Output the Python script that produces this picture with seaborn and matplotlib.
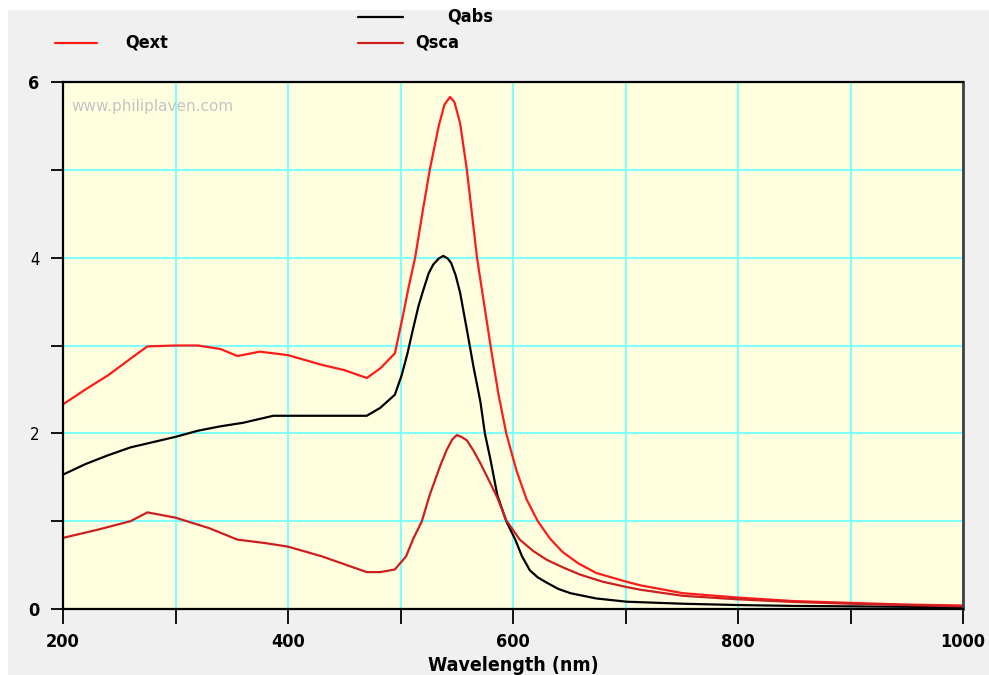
import matplotlib
matplotlib.use("Agg")
import matplotlib.pyplot as plt
from matplotlib.lines import Line2D
from matplotlib.patches import Rectangle
import seaborn as sns
import pandas as pd

# ---- data ----
wl_ext = [200, 220, 240, 260, 275, 300, 320, 340, 355, 375, 400, 430, 450, 470, 482, 495, 502,
          507, 513, 520, 526, 534, 539, 544, 548, 553, 559, 568, 574, 580, 587, 594, 603, 612,
          622, 633, 644, 658, 674, 701, 713, 751, 800, 850, 900, 950, 1000]
qext = [2.33, 2.5, 2.66, 2.85, 2.99, 3.0, 3.0, 2.96, 2.88, 2.93, 2.89, 2.78, 2.72, 2.63, 2.74,
        2.91, 3.33, 3.65, 4.0, 4.55, 5.0, 5.5, 5.74, 5.83, 5.77, 5.53, 5.0, 4.0, 3.5, 3.0, 2.45,
        2.0, 1.58, 1.25, 1.0, 0.8, 0.65, 0.52, 0.41, 0.31, 0.27, 0.18, 0.13, 0.09, 0.07, 0.05,
        0.04]

wl_abs = [200, 220, 240, 260, 280, 300, 320, 340, 360, 387, 430, 470, 482, 495, 501, 506, 511,
          516, 520, 525, 529, 534, 538, 542, 545, 549, 553, 559, 565, 571, 575, 580, 586, 594,
          602, 608, 615, 622, 630, 640, 651, 674, 701, 751, 800, 850, 900, 1000]
qabs = [1.53, 1.65, 1.75, 1.84, 1.9, 1.96, 2.03, 2.08, 2.12, 2.2, 2.2, 2.2, 2.29, 2.44, 2.66,
        2.9, 3.18, 3.45, 3.62, 3.82, 3.92, 3.99, 4.02, 3.99, 3.94, 3.8, 3.6, 3.18, 2.75, 2.36,
        2.0, 1.7, 1.3, 1.0, 0.79, 0.6, 0.44, 0.36, 0.30, 0.23, 0.18, 0.12, 0.083, 0.06, 0.045,
        0.035, 0.03, 0.02]

wl_sca = [200, 230, 260, 275, 300, 330, 355, 380, 400, 430, 470, 482, 495, 505, 511, 519, 526,
          535, 541, 546, 550, 554, 559, 565, 571, 578, 586, 594, 606, 618, 630, 645, 660, 680,
          701, 713, 751, 800, 850, 900, 1000]
qsca = [0.81, 0.9, 1.0, 1.10, 1.04, 0.92, 0.79, 0.75, 0.71, 0.6, 0.42, 0.42, 0.45, 0.6, 0.79,
        1.0, 1.3, 1.62, 1.81, 1.93, 1.98, 1.96, 1.92, 1.8, 1.66, 1.48, 1.27, 1.01, 0.79, 0.66,
        0.56, 0.47, 0.39, 0.31, 0.25, 0.22, 0.15, 0.11, 0.08, 0.06, 0.03]

series = ["Qext", "Qabs", "Qsca"]
colors = {"Qext": "#ff1a1a", "Qabs": "#000000", "Qsca": "#cc1f1f"}

df = pd.concat([
    pd.DataFrame({"Wavelength": wl_ext, "Q": qext, "series": "Qext"}),
    pd.DataFrame({"Wavelength": wl_abs, "Q": qabs, "series": "Qabs"}),
    pd.DataFrame({"Wavelength": wl_sca, "Q": qsca, "series": "Qsca"}),
], ignore_index=True)

xticks_major = [200, 400, 600, 800, 1000]
yticks_major = [0, 2, 4, 6]

# ---- figure ----
sns.set_style("white")
FONT = ["DejaVu Sans"]
plt.rcParams["font.family"] = FONT
plt.rcParams["font.stretch"] = "condensed"
plt.rcParams["text.color"] = "black"
plt.rcParams["xtick.color"] = "black"
plt.rcParams["ytick.color"] = "black"

W, H = 989, 675
fig = plt.figure(figsize=(W / 100, H / 100), dpi=100, facecolor="#f0f0f0")
ax = fig.add_axes([63 / W, (H - 609) / H, 900 / W, 527 / H])
ax.set_facecolor("#ffffe0")

# white border strips like the screenshot
fig.patches.append(Rectangle((0, (H - 10) / H), 1, 10 / H, transform=fig.transFigure,
                             facecolor="white", edgecolor="none", zorder=-1))
fig.patches.append(Rectangle((0, 0), 8 / W, 1, transform=fig.transFigure,
                             facecolor="white", edgecolor="none", zorder=-1))

sns.lineplot(data=df, x="Wavelength", y="Q", hue="series", hue_order=series,
             palette=colors, sort=False, estimator=None, linewidth=1.6, ax=ax, legend=False)

ax.set_xlim(200, 1000)
ax.set_ylim(0, 6)
ax.set_xticks(range(200, 1001, 100), minor=True)
ax.set_yticks(range(0, 7), minor=True)
ax.set_xticks(xticks_major)
ax.set_yticks(yticks_major)
ax.grid(True, which="both", color="#80ffff", linewidth=1.5)
ax.set_axisbelow(True)

ax.tick_params(axis="both", which="both", direction="out", length=9, width=1.3,
               color="black", labelcolor="black", bottom=True, left=True, pad=8)
ax.tick_params(axis="x", which="both", length=11, pad=6)
ax.set_xticklabels([str(v) for v in xticks_major], fontsize=13, fontweight="bold",
                   fontstretch="condensed")
ax.set_yticklabels([str(v) for v in yticks_major], fontsize=13, fontweight="bold",
                   fontstretch="condensed")
for lab in ax.get_yticklabels():
    if lab.get_text() in ("2", "4"):
        lab.set_fontweight("normal")
        lab.set_fontsize(12)

ax.set_xlabel("Wavelength (nm)", fontsize=14, fontweight="bold", fontstretch="condensed",
              color="black", labelpad=4)
ax.set_ylabel("")

for side in ["left", "bottom", "top"]:
    ax.spines[side].set_color("black")
    ax.spines[side].set_linewidth(1.6)
ax.spines["right"].set_color("#404040")
ax.spines["right"].set_linewidth(2)

ax.text(0.009, 0.953, "www.philiplaven.com", transform=ax.transAxes, fontsize=11,
        color="#c4c4c4", fontstretch="normal", va="center", ha="left")

# legend drawn in the figure margin
def fig_xy(px, py):
    return px / W, (H - py) / H

leg = [("Qext", 55, 97, 43, 125), ("Qabs", 358, 403, 17, 447), ("Qsca", 358, 403, 43, 415)]
for name, x0, x1, y, tx in leg:
    (fx0, fy), (fx1, _) = fig_xy(x0, y), fig_xy(x1, y)
    fig.add_artist(Line2D([fx0, fx1], [fy, fy], color=colors[name], linewidth=1.6,
                          transform=fig.transFigure))
    fig.text(tx / W, fy, name, fontsize=13, fontweight="bold", fontstretch="condensed",
             va="center", ha="left")

fig.savefig("out.png", dpi=100, facecolor=fig.get_facecolor())
